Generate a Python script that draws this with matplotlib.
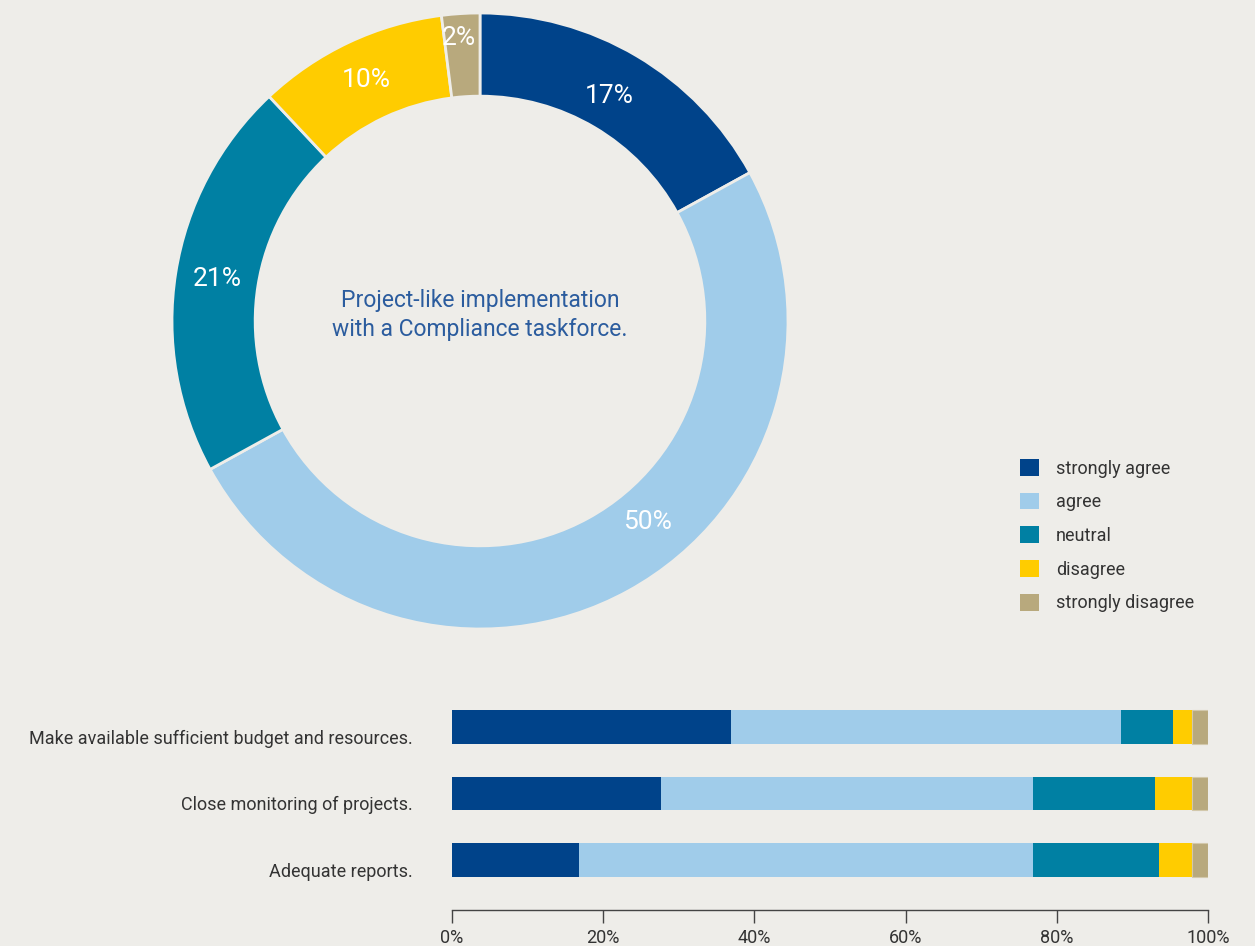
import matplotlib
matplotlib.use("Agg")
import matplotlib.pyplot as plt
from matplotlib.patches import Patch
from matplotlib.transforms import blended_transform_factory

plt.rcParams["font.family"] = ["Roboto", "DejaVu Sans"]

BG = "#EEEDE9"
TXT = "#333333"

categories = ["strongly agree", "agree", "neutral", "disagree", "strongly disagree"]
colors = ["#00438A", "#A0CCEA", "#0080A3", "#FFCC00", "#B8A97D"]

# donut: overall answer distribution
donut_vals = [17, 50, 21, 10, 2]
center_text = "Project-like implementation\nwith a Compliance taskforce."

# stacked bars, one row per statement (percent per category)
statements = ["Make available sufficient budget and resources.",
              "Close monitoring of projects.",
              "Adequate reports."]
bar_vals = {
    "strongly agree":    [36.9, 27.6, 16.8],
    "agree":             [51.6, 49.3, 60.1],
    "neutral":           [6.9, 16.1, 16.6],
    "disagree":          [2.5, 4.9, 4.4],
    "strongly disagree": [2.1, 2.1, 2.1],
}
xticks = [0, 20, 40, 60, 80, 100]

W, H = 1255, 946
fig = plt.figure(figsize=(W / 100, H / 100), dpi=100, facecolor=BG)

def px_axes(x0, y0, x1, y1):
    # axes from pixel box (top-left origin)
    return fig.add_axes([x0 / W, 1 - y1 / H, (x1 - x0) / W, (y1 - y0) / H])

# ---- donut
cx, cy, r = 480, 321, 308
axp = px_axes(cx - r, cy - r, cx + r, cy + r)
axp.set_facecolor(BG)
wedges, _, autotexts = axp.pie(
    donut_vals, colors=colors, startangle=90, counterclock=False, radius=1,
    autopct=lambda p: f"{p:.0f}%", pctdistance=0.865,
    wedgeprops=dict(width=0.27, edgecolor=BG, linewidth=2),
    textprops=dict(color="white", fontsize=19))
autotexts[0].set_position((0.42, 0.73))
autotexts[1].set_position((0.545, -0.653))
autotexts[4].set_position((-0.068, 0.92))
axp.set_xlim(-1, 1); axp.set_ylim(-1, 1)
axp.axis("off")
axp.text(0, 0.02, center_text, ha="center", va="center", fontsize=16.5,
         color="#2B5C9E", linespacing=1.35)

# ---- legend
handles = [Patch(facecolor=c, edgecolor="none") for c in colors]
fig.legend(handles, categories, loc="upper left",
           bbox_to_anchor=(1020 / W, 1 - 459 / H), frameon=False,
           fontsize=13, labelcolor=TXT, handlelength=1.05, handleheight=1.05,
           handletextpad=0.95, labelspacing=0.84, borderpad=0, borderaxespad=0)

# ---- stacked bars
axb = px_axes(452, 677, 1208, 910)
axb.set_facecolor(BG)
ypos = list(range(len(statements)))
bar_h = 0.51
left = [0.0] * len(statements)
for cat, col in zip(categories, colors):
    vals = bar_vals[cat]
    ec = "#D2C8AB" if cat == "strongly disagree" else "none"
    axb.barh(ypos, vals, left=left, height=bar_h, color=col, edgecolor=ec,
             linewidth=0.8)
    left = [a + b for a, b in zip(left, vals)]

axb.set_xlim(0, 100)
axb.set_ylim(2.752, -0.752)
axb.set_yticks([])
# statement labels sit on the bar's bottom edge
trans = blended_transform_factory(axb.transAxes, axb.transData)
for y, s in zip(ypos, statements):
    axb.text(-0.052, y + bar_h / 2, s, transform=trans, ha="right",
             va="baseline", fontsize=13, color=TXT)

axb.set_xticks(xticks)
axb.set_xticklabels([f"{t}%" for t in xticks], fontsize=13, color=TXT)
axb.tick_params(axis="x", direction="out", length=9, width=1, color="#444444", pad=5)
for s in ["top", "right", "left"]:
    axb.spines[s].set_visible(False)
axb.spines["bottom"].set_color("#444444")
axb.spines["bottom"].set_linewidth(1)

fig.savefig("out.png", dpi=100, facecolor=BG)
